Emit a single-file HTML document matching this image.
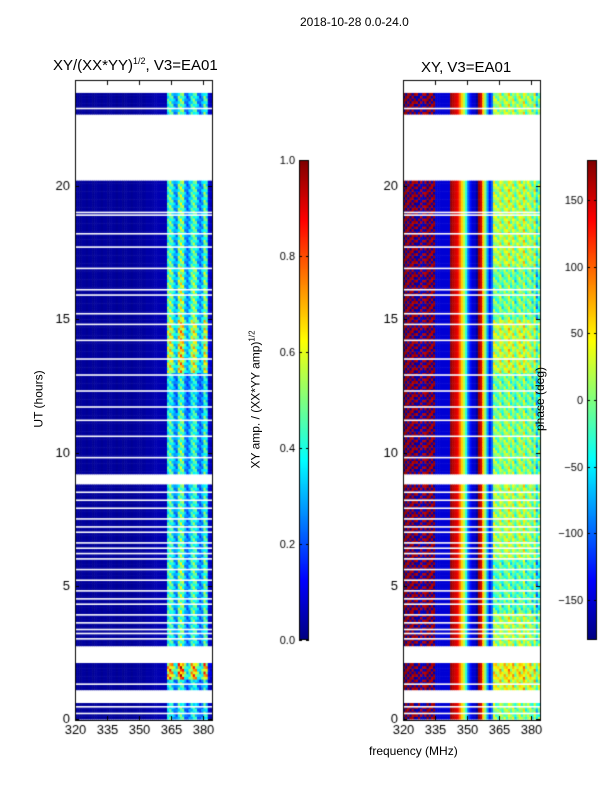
<!DOCTYPE html>
<html><head><meta charset="utf-8">
<style>
body{margin:0;background:#fff;font-family:"Liberation Sans","DejaVu Sans",sans-serif;}
#wrap{position:relative;width:600px;height:800px;overflow:hidden;}
.t{position:absolute;font-size:12px;color:#000;white-space:nowrap;z-index:2;}
canvas{position:absolute;z-index:1;}
</style></head><body>
<div id="wrap">
<div class="t" style="left:300px;top:15px;font-size:12px;">2018-10-28 0.0-24.0</div>
<div class="t" style="left:53px;top:56px;font-size:15px;">XY/(XX*YY)<sup style="font-size:9px;">1/2</sup>, V3=EA01</div>
<div class="t" style="left:421px;top:59px;font-size:15px;">XY, V3=EA01</div>
<div class="t" style="left:369px;top:744px;">frequency (MHz)</div>
<div class="t" style="left:10px;top:392px;transform:rotate(-90deg);">UT (hours)</div>
<div class="t" style="left:186px;top:392px;transform:rotate(-90deg);">XY amp. / (XX*YY amp)<sup style="font-size:8px;">1/2</sup></div>
<div class="t" style="left:508px;top:392px;transform:rotate(-90deg);">phase (deg)</div>
<canvas id="c" width="600" height="800" style="left:0;top:0;"></canvas>
</div>
<script>
// data
const freqStart = 320, freqEnd = 384, chanWidth = 1;
const ampProfile = [0.03,0.03,0.02,0.03,0.03,0.02,0.03,0.03,0.02,0.03,0.03,0.03,0.02,0.03,0.03,0.02,0.03,0.03,0.03,0.02,0.03,0.03,0.02,0.03,0.03,0.03,0.02,0.03,0.03,0.03,0.03,0.03,0.03,0.04,0.04,0.04,0.04,0.05,0.05,0.05,0.05,0.05,0.05,0.4,0.45,0.4,0.28,0.25,0.45,0.5,0.45,0.28,0.22,0.28,0.4,0.45,0.4,0.28,0.22,0.28,0.45,0.4,0.08,0.06];
const phaseProfile = [170,175,165,170,160,170,-160,-165,-155,-160,160,170,165,160,170,-150,-150,-150,-150,-150,-150,-150,170,160,150,140,100,60,20,-30,-100,-130,-150,-150,-170,170,150,60,0,-80,-130,-100,10,0,-10,20,-20,10,0,30,-10,20,-30,0,20,-10,30,-20,0,10,-30,20,-60,-10];
const noisyUntil = 15; // columns with noisy red/blue phase
const hourBands = [0,0.55,1.1,1.5,2.05,2.75,4,6,8.8,9.2,11.5,13,15,17,20.2,22.7,23.5];
const bandPresent = [1,0,1,1,0,1,1,1,0,1,1,1,1,1,0,1];
const bandAmpFactor = [0.9,0,0.9,1.6,0,1,1.05,1,0,1,0.9,1.35,1.15,1.05,0,1];
const bandPhaseShift = [0,0,30,40,0,10,-20,10,0,0,-10,20,-10,15,0,10];
const thinGaps = [0.2,0.45,1.3,3.0,3.2,3.35,3.6,3.9,4.3,4.5,4.8,5.2,5.6,6.0,6.2,6.4,6.6,7.0,7.2,7.5,7.9,8.2,8.5,9.8,10.6,11.2,11.7,12.3,12.9,13.5,14.2,14.8,15.2,15.9,16.1,16.9,17.7,18.2,18.9,19.0,22.9];
const ampTicks=[0,0.2,0.4,0.6,0.8,1.0], phaseTicks=[-150,-100,-50,0,50,100,150];
const xTicks=[320,335,350,365,380], yTicksL=[0,5,10,15,20], yTicksR=[0,5,10,15,20];

const ctx=document.getElementById('c').getContext('2d');
function jet(v){v=Math.max(0,Math.min(1,v));
 const r=Math.max(0,Math.min(1,1.5-Math.abs(4*v-3))),g=Math.max(0,Math.min(1,1.5-Math.abs(4*v-2))),b=Math.max(0,Math.min(1,1.5-Math.abs(4*v-1)));
 return `rgb(${r*255|0},${g*255|0},${b*255|0})`;}
const Y=h=>719-(h)*(533/20);
function X(f,x0){return x0+ (f-freqStart)*(137/(freqEnd-freqStart));}
const panels=[{x0:75,kind:'amp'},{x0:403,kind:'phase'}];
const dt=0.1;
for(const p of panels){
 for(let b=0;b<bandPresent.length;b++){
  if(!bandPresent[b]) continue;
  for(let h=hourBands[b];h<hourBands[b+1]-1e-6;h+=dt){
   const k=Math.round(h*10);
   for(let c=0;c<ampProfile.length;c++){
    const f=freqStart+c*chanWidth;
    let v;
    if(p.kind==='amp'){v=ampProfile[c]*(c>=42?bandAmpFactor[b]*(1+0.2*((k+c)%3-1)):1);}
    else{let ph=phaseProfile[c];
     if(c<noisyUntil){ if((k*7+c*3)%5<2) ph=-ph; }
     else if(c>=42){ ph+=bandPhaseShift[b]+((k*5+c)%4)*20-30; }
     if(ph>180)ph-=360; if(ph<-180)ph+=360;
     v=(ph+180)/360;}
    ctx.fillStyle=jet(v);
    const xa=X(f,p.x0),xb=X(f+chanWidth,p.x0);
    ctx.fillRect(xa,Y(h+dt),xb-xa+0.5,Y(h)-Y(h+dt)+0.5);
   }
  }
 }
 ctx.fillStyle='#fff';
 for(const g of thinGaps){ctx.fillRect(p.x0,Y(g)-1,137,1.6);}
 ctx.fillRect(p.x0,Y(24.2),137,Y(23.5)-Y(24.2));
 ctx.strokeStyle='#000';ctx.lineWidth=1;ctx.strokeRect(p.x0+0.5,80.5,137,640);
 ctx.fillStyle='#000';ctx.font='13px "Liberation Sans",sans-serif';
 ctx.textAlign='center';ctx.textBaseline='top';
 for(const t of xTicks){const x=Math.round(X(t,p.x0))+0.5;ctx.beginPath();ctx.moveTo(x,720);ctx.lineTo(x,716);ctx.moveTo(x,81);ctx.lineTo(x,85);ctx.stroke();ctx.fillText(String(t),x,724);}
 ctx.textAlign='right';ctx.textBaseline='middle';
 for(const t of (p.kind==='amp'?yTicksL:yTicksR)){const y=Math.round(Y(t))+0.5;ctx.beginPath();ctx.moveTo(p.x0,y);ctx.lineTo(p.x0+4,y);ctx.moveTo(p.x0+137,y);ctx.lineTo(p.x0+133,y);ctx.stroke();ctx.fillText(String(t),p.x0-5,y);}
}
function cbar(x0,ticks,mn,mx,fmt){
 for(let i=0;i<480;i++){ctx.fillStyle=jet(1-i/480);ctx.fillRect(x0,160+i,10,1);}
 ctx.strokeStyle='#000';ctx.strokeRect(x0+0.5,160.5,9,479);
 ctx.fillStyle='#000';ctx.font='11px "Liberation Sans",sans-serif';ctx.textAlign='right';ctx.textBaseline='middle';
 for(const t of ticks){const y=Math.round(640-(t-mn)/(mx-mn)*480)+0.5;ctx.beginPath();ctx.moveTo(x0,y);ctx.lineTo(x0+3,y);ctx.moveTo(x0+10,y);ctx.lineTo(x0+7,y);ctx.stroke();ctx.fillText(fmt(t),x0-4,y);}
}
cbar(299,ampTicks,0,1,t=>t.toFixed(1));
cbar(587,phaseTicks,-180,180,t=>t<0?'\u2212'+(-t):String(t));
</script>
</body></html>
